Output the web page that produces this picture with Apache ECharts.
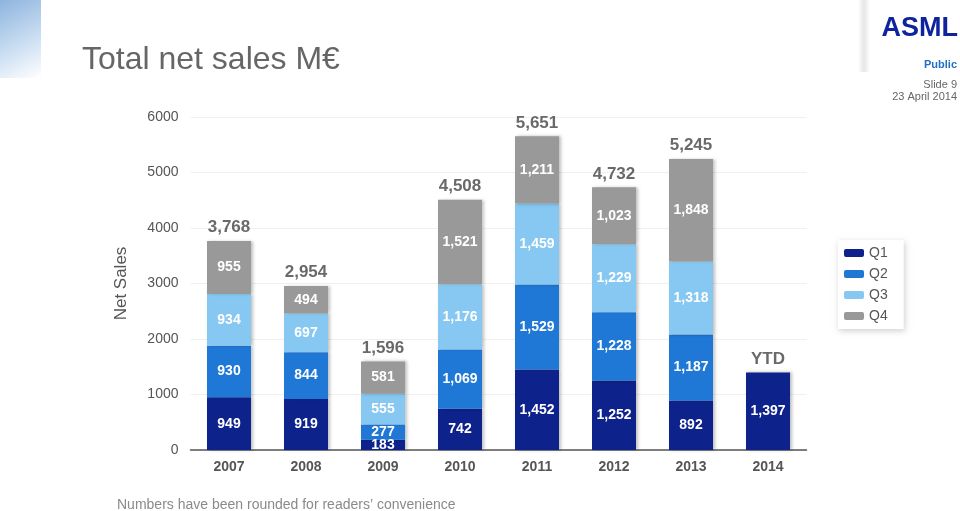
<!DOCTYPE html>
<html>
<head>
<meta charset="utf-8">
<script src="https://cdn.jsdelivr.net/npm/echarts@6/dist/echarts.min.js"></script>
<style>
html,body{margin:0;padding:0;background:#fff;}
#chart{width:960px;height:511px;}
</style>
</head>
<body>
<div id="chart"></div>
<script>
var years = ['2007','2008','2009','2010','2011','2012','2013','2014'];
var q1 = [949, 919, 183, 742, 1452, 1252, 892, 1397];
var q2 = [930, 844, 277, 1069, 1529, 1228, 1187, null];
var q3 = [934, 697, 555, 1176, 1459, 1229, 1318, null];
var q4 = [955, 494, 581, 1521, 1211, 1023, 1848, null];
var totals = [3768, 2954, 1596, 4508, 5651, 4732, 5245, 1397];
var totalLabels = ['3,768', '2,954', '1,596', '4,508', '5,651', '4,732', '5,245', 'YTD'];
var yTicks = [0, 1000, 2000, 3000, 4000, 5000, 6000];
var seriesNames = ['Q1', 'Q2', 'Q3', 'Q4'];
var colors = ['#0e228c', '#1f78d6', '#86c8f1', '#999999'];

var fmt = function (v) { return v.toLocaleString('en-US'); };
var FONT = '"Liberation Sans", Arial, Helvetica, sans-serif';

function barSeries(name, data, color) {
  return {
    name: name,
    type: 'bar',
    stack: 'total',
    barWidth: 44,
    data: data,
    itemStyle: {
      color: color,
      shadowColor: 'rgba(0,0,0,0.25)',
      shadowBlur: 3,
      shadowOffsetX: 2,
      shadowOffsetY: 0
    },
    label: {
      show: true,
      position: 'inside',
      color: '#ffffff',
      fontFamily: FONT,
      fontWeight: 'bold',
      fontSize: 14,
      formatter: function (p) { return p.value == null ? '' : fmt(p.value); }
    },
    emphasis: { disabled: true }
  };
}

var chart = echarts.init(document.getElementById('chart'), null, {renderer: 'canvas'});
var option = {
  animation: false,
  backgroundColor: '#ffffff',
  textStyle: { fontFamily: FONT },
  title: {
    text: 'Total net sales M€',
    left: 77,
    top: 39,
    textStyle: { fontFamily: FONT, fontSize: 32, fontWeight: 'normal', color: '#666666' }
  },
  graphic: [
    {
      type: 'rect', left: 0, top: 0, shape: { width: 41, height: 78 },
      style: {
        fill: new echarts.graphic.LinearGradient(0, 0, 1, 1, [
          { offset: 0, color: '#8db4df' },
          { offset: 0.6, color: '#cfe1f3' },
          { offset: 1, color: '#ffffff' }
        ])
      }
    },
    {
      type: 'rect', left: 858, top: 0, shape: { width: 12, height: 72 },
      style: {
        fill: new echarts.graphic.LinearGradient(0, 0, 1, 0, [
          { offset: 0, color: 'rgba(200,200,200,0.0)' },
          { offset: 0.5, color: 'rgba(200,200,200,0.45)' },
          { offset: 1, color: 'rgba(200,200,200,0.0)' }
        ])
      }
    },
    {
      type: 'text', right: 2, top: 15,
      style: { text: 'ASML', fill: '#10239e', font: '900 27px ' + FONT }
    },
    {
      type: 'text', right: 3, top: 59,
      style: { text: 'Public', fill: '#1f6fc5', font: 'bold 11px ' + FONT }
    },
    {
      type: 'text', right: 3, top: 79,
      style: { text: 'Slide 9', fill: '#666666', font: '11px ' + FONT }
    },
    {
      type: 'text', right: 3, top: 91,
      style: { text: '23 April 2014', fill: '#666666', font: '11px ' + FONT }
    },
    {
      type: 'text', left: 117, top: 498,
      style: { text: 'Numbers have been rounded for readers’ convenience', fill: '#8a8a8a', font: '14px ' + FONT }
    }
  ],
  legend: {
    data: seriesNames,
    orient: 'vertical',
    left: 838,
    top: 240,
    itemWidth: 20,
    itemHeight: 8,
    itemGap: 7,
    padding: [6, 16, 6, 6],
    backgroundColor: '#ffffff',
    shadowColor: 'rgba(0,0,0,0.18)',
    shadowBlur: 6,
    shadowOffsetX: 1,
    shadowOffsetY: 2,
    textStyle: { fontFamily: FONT, fontSize: 14, color: '#555555' },
    selectedMode: false
  },
  grid: { left: 190.5, right: 153.5, top: 117, bottom: 61 },
  xAxis: {
    type: 'category',
    data: years,
    axisLine: { lineStyle: { color: '#555555', width: 1.5 } },
    axisTick: { show: false },
    axisLabel: { margin: 10, color: '#555555', fontFamily: FONT, fontSize: 14, fontWeight: 'bold' }
  },
  yAxis: {
    type: 'value',
    min: yTicks[0],
    max: yTicks[yTicks.length - 1],
    interval: 1000,
    name: 'Net Sales',
    nameLocation: 'middle',
    nameRotate: 90,
    nameGap: 61,
    nameTextStyle: { fontFamily: FONT, fontSize: 17, color: '#555555' },
    axisLine: { show: false },
    axisTick: { show: false },
    axisLabel: { margin: 12, color: '#555555', fontFamily: FONT, fontSize: 14, formatter: function (v) { return String(v); } },
    splitLine: { lineStyle: { color: '#f0f0f0', width: 1 } }
  },
  series: [
    barSeries(seriesNames[0], q1, colors[0]),
    barSeries(seriesNames[1], q2, colors[1]),
    barSeries(seriesNames[2], q3, colors[2]),
    barSeries(seriesNames[3], q4, colors[3]),
    {
      name: 'Total',
      type: 'scatter',
      data: totals,
      symbolSize: 0,
      silent: true,
      label: {
        show: true,
        position: 'top',
        distance: 5,
        color: '#444444',
        fontFamily: FONT,
        fontWeight: 'bold',
        fontSize: 17,
        formatter: function (p) { return totalLabels[p.dataIndex]; }
      },
      z: 5
    }
  ]
};
chart.setOption(option);
</script>
</body>
</html>
